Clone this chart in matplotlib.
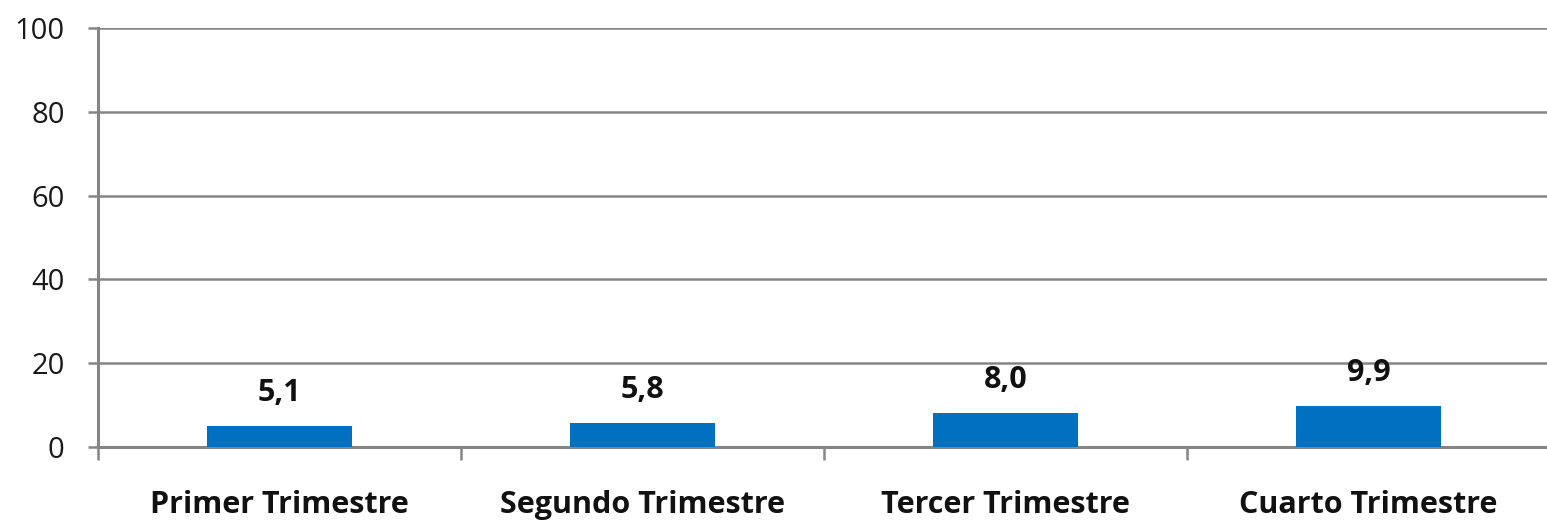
import matplotlib.pyplot as plt
import numpy as np

categories = ['Primer Trimestre', 'Segundo Trimestre', 'Tercer Trimestre', 'Cuarto Trimestre']
values = [5.1, 5.8, 8.0, 9.9]
value_labels = ['5,1', '5,8', '8,0', '9,9']
yticks = [0, 20, 40, 60, 80, 100]

plt.rcParams['font.family'] = ['Open Sans', 'DejaVu Sans']

W, H = 1547, 521
fig = plt.figure(figsize=(W / 100, H / 100), dpi=100)
ax = fig.add_axes([98 / W, 74 / H, 1452 / W, 419 / H])

grey = '#858585'
x = np.arange(len(categories))
ax.bar(x, values, width=0.4, color='#0070C0', zorder=3)

for xi, v, lab in zip(x, values, value_labels):
    ax.annotate(lab, (xi, v), xytext=(0, 18), textcoords='offset pixels',
                ha='center', va='bottom', fontsize=22, fontweight='bold', color='#111111')

ax.set_xlim(-0.5, 3.5)
ax.set_ylim(0, 100)
ax.set_yticks(yticks)
ax.set_yticklabels([str(t) for t in yticks], fontsize=21, color='#1a1a1a')
ax.yaxis.grid(True, color=grey, linewidth=1.8, zorder=0)
ax.tick_params(axis='y', length=7, width=1.8, color=grey, pad=17)

ax.set_xticks(x)
ax.set_xticklabels(categories, fontsize=22, fontweight='bold', color='#111111')
ax.set_xticks(np.arange(-0.5, 3.6, 1.0), minor=True)
ax.tick_params(axis='x', which='major', length=0, pad=31)
ax.tick_params(axis='x', which='minor', length=9, width=1.8, color=grey)

for s in ['top', 'right']:
    ax.spines[s].set_visible(False)
for s in ['left', 'bottom']:
    ax.spines[s].set_color(grey)
    ax.spines[s].set_linewidth(2.2)
ax.set_axisbelow(True)

fig.savefig('out.png', dpi=100)
